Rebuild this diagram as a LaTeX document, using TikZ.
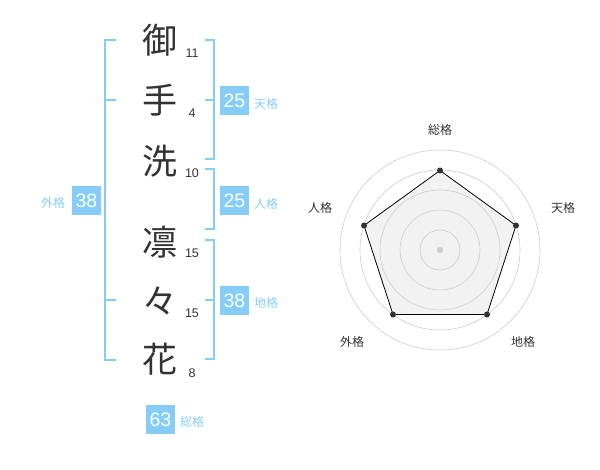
\documentclass[tikz,border=0pt]{standalone}
\usepackage{fontspec}
\setmainfont{Liberation Sans}
\newfontfamily\jp{Noto Sans CJK JP}
\begin{document}
\definecolor{seiblue}{HTML}{85CCF8}
\definecolor{seitext}{HTML}{333333}
\definecolor{ringgray}{HTML}{CCCCCC}
\definecolor{radarfill}{HTML}{F2F2F2}
\begin{tikzpicture}[x=1pt,y=-1pt,
  kanji/.style={font=\jp\fontsize{35}{35}\selectfont, text=seitext, inner sep=0pt},
  strokes/.style={font=\fontsize{12.5}{12.5}\selectfont, text=seitext, inner sep=0pt},
  numbox/.style={fill=seiblue, text=white, minimum size=29pt, inner sep=0pt, font=\fontsize{19.5}{19.5}\selectfont},
  kakulabel/.style={font=\jp\fontsize{12}{12}\selectfont, text=seiblue, inner sep=0pt},
  radarlabel/.style={font=\jp\fontsize{12}{12}\selectfont, text=seitext, inner sep=0pt},
  bracket/.style={draw=seiblue, line width=2pt},
  ring/.style={draw=ringgray, line width=0.6pt},
  vdot/.style={circle, fill=seitext, inner sep=0pt, minimum size=6pt}
]
\useasboundingbox (0,0) rectangle (600,470);
% characters
\node[kanji] (c1) at (160,40) {御};
\node[kanji] (c2) at (160,100) {手};
\node[kanji] (c3) at (160,161) {洗};
\node[kanji] (c4) at (160,242) {凛};
\node[kanji] (c5) at (160,301) {々};
\node[kanji] (c6) at (160,359) {花};
% stroke counts
\node[strokes] (s1) at (192,53) {11};
\node[strokes] (s2) at (192,113) {4};
\node[strokes] (s3) at (192,173) {10};
\node[strokes] (s4) at (192,253) {15};
\node[strokes] (s5) at (192,313) {15};
\node[strokes] (s6) at (192,373) {8};
% left bracket (gaikaku)
\draw[bracket] (116,40) -- (105,40) -- (105,360) -- (116,360);
\draw[bracket] (105,100) -- (116,100);
\draw[bracket] (105,300) -- (116,300);
\node[numbox] (gai) at (86.5,200.5) {38};
\node[kakulabel] (gail) at (53,203) {外格};
% right brackets
\draw[bracket] (205,40) -- (214,40) -- (214,159) -- (205,159);
\draw[bracket] (205,100) -- (214,100);
\draw[bracket] (205,169) -- (214,169) -- (214,229) -- (205,229);
\draw[bracket] (205,240) -- (214,240) -- (214,359) -- (205,359);
\draw[bracket] (205,300) -- (214,300);
\node[numbox] (ten) at (234.5,101) {25};
\node[kakulabel] (tenl) at (266,104) {天格};
\node[numbox] (jin) at (234.5,200.5) {25};
\node[kakulabel] (jinl) at (266,204) {人格};
\node[numbox] (chi) at (234.5,300.5) {38};
\node[kakulabel] (chil) at (266,303) {地格};
\node[numbox] (sou) at (160.5,419.5) {63};
\node[kakulabel] (soul) at (192,422) {総格};
% radar chart
\coordinate (rc) at (440,250);
\coordinate (p1) at (440,170.5);
\coordinate (p2) at (516,225.5);
\coordinate (p3) at (487,314.5);
\coordinate (p4) at (393,314.5);
\coordinate (p5) at (364,225.5);
\fill[radarfill] (p1) -- (p2) -- (p3) -- (p4) -- (p5) -- cycle;
\foreach \r in {20,40,60,80,100} { \draw[ring] (rc) circle[radius=\r]; }
\fill[ringgray] (rc) circle[radius=3.2];
\draw[black, line width=0.8pt, line join=round] (p1) -- (p2) -- (p3) -- (p4) -- (p5) -- cycle;
\foreach \p in {p1,p2,p3,p4,p5} { \node[vdot] at (\p) {}; }
\node[radarlabel] (r1) at (440,130) {総格};
\node[radarlabel] (r2) at (563,208) {天格};
\node[radarlabel] (r3) at (523,342) {地格};
\node[radarlabel] (r4) at (352,342) {外格};
\node[radarlabel] (r5) at (320,208) {人格};
\end{tikzpicture}
\end{document}
